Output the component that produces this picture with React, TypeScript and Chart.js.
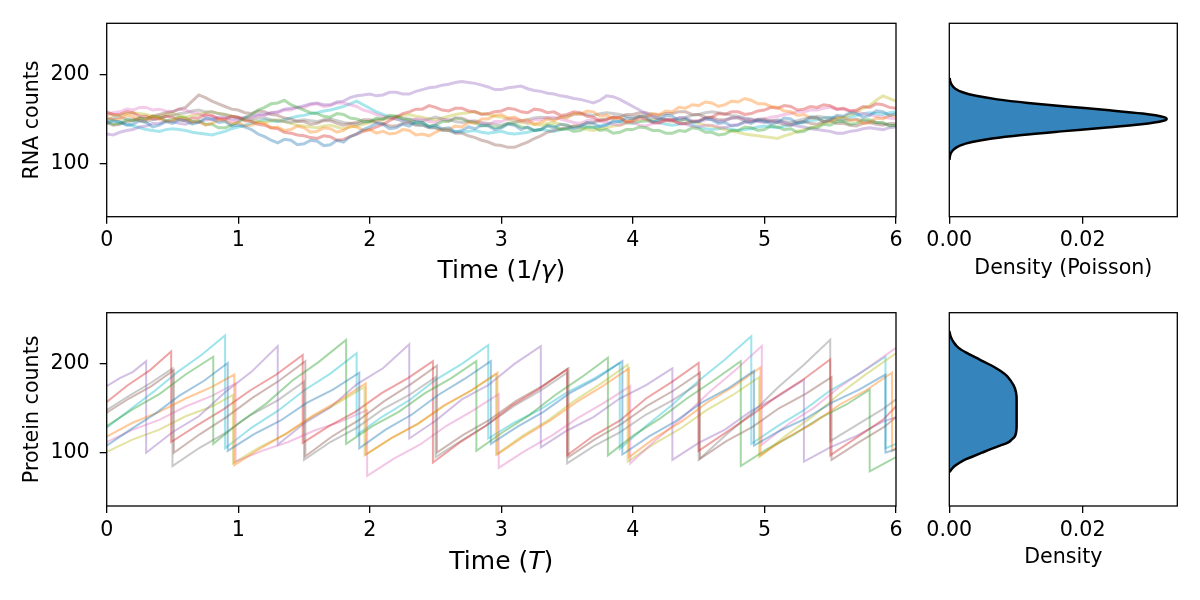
import { useEffect, useRef } from "react"
import { Chart, registerables, type ChartConfiguration, type Plugin } from "chart.js"

Chart.register(...registerables)

const FONT = "'DejaVu Sans', sans-serif"
const TAB10 = ["31,119,180", "255,127,14", "44,160,44", "214,39,40", "148,103,189", "140,86,75", "227,119,194", "127,127,127", "188,189,34", "23,190,207"]

const TIME_TICKS = [0, 1, 2, 3, 4, 5, 6]
const COUNT_TICKS = [100, 200]
const DENSITY_TICKS = [0, 0.02]
const COUNT_MIN = 40
const COUNT_MAX = 257.6
const DENSITY_MAX = 0.0342

// RNA traces, sampled every 0.05 (1/gamma)
const RNA_TIME = [
  0, 0.05, 0.1, 0.15, 0.2, 0.25, 0.3, 0.35, 0.4, 0.45, 0.5, 0.55, 0.6, 0.65, 0.7, 0.75, 0.8, 0.85, 0.9, 0.95,
  1, 1.05, 1.1, 1.15, 1.2, 1.25, 1.3, 1.35, 1.4, 1.45, 1.5, 1.55, 1.6, 1.65, 1.7, 1.75, 1.8, 1.85, 1.9, 1.95,
  2, 2.05, 2.1, 2.15, 2.2, 2.25, 2.3, 2.35, 2.4, 2.45, 2.5, 2.55, 2.6, 2.65, 2.7, 2.75, 2.8, 2.85, 2.9, 2.95,
  3, 3.05, 3.1, 3.15, 3.2, 3.25, 3.3, 3.35, 3.4, 3.45, 3.5, 3.55, 3.6, 3.65, 3.7, 3.75, 3.8, 3.85, 3.9, 3.95,
  4, 4.05, 4.1, 4.15, 4.2, 4.25, 4.3, 4.35, 4.4, 4.45, 4.5, 4.55, 4.6, 4.65, 4.7, 4.75, 4.8, 4.85, 4.9, 4.95,
  5, 5.05, 5.1, 5.15, 5.2, 5.25, 5.3, 5.35, 5.4, 5.45, 5.5, 5.55, 5.6, 5.65, 5.7, 5.75, 5.8, 5.85, 5.9, 5.95,
  6,
]
const RNA_BLUE = [
  145, 148, 147, 143, 144, 148, 146, 141, 143, 147, 145, 149, 148, 144, 146, 151, 150, 146, 147, 142,
  143, 141, 138, 133, 130, 126, 123, 127, 126, 121, 122, 126, 125, 120, 121, 126, 124, 130, 133, 138,
  141, 145, 144, 139, 140, 144, 142, 147, 146, 141, 143, 139, 140, 135, 137, 141, 139, 143, 142, 138,
  140, 144, 143, 138, 141, 137, 138, 142, 140, 144, 143, 139, 141, 146, 145, 141, 143, 148, 147, 151,
  150, 153, 152, 147, 149, 154, 153, 148, 150, 146, 147, 151, 149, 145, 146, 142, 143, 147, 145, 149,
  148, 144, 146, 151, 150, 145, 147, 152, 151, 147, 149, 154, 153, 157, 156, 152, 154, 159, 158, 154,
  156,
]
const RNA_ORANGE = [
  152, 149, 150, 154, 153, 148, 149, 153, 151, 147, 148, 151, 150, 146, 147, 143, 145, 149, 148, 144,
  146, 142, 143, 146, 145, 140, 141, 137, 138, 142, 140, 135, 136, 140, 139, 135, 137, 142, 141, 137,
  138, 134, 136, 133, 134, 138, 137, 132, 133, 131, 135, 139, 138, 142, 141, 146, 145, 150, 150, 154,
  155, 151, 152, 148, 149, 144, 146, 150, 148, 152, 151, 156, 155, 159, 158, 153, 154, 150, 151, 147,
  149, 153, 152, 156, 155, 159, 158, 163, 162, 166, 165, 169, 168, 164, 166, 170, 169, 173, 171, 167,
  167, 164, 163, 159, 158, 154, 155, 151, 151, 147, 148, 152, 152, 148, 149, 145, 146, 151, 150, 154,
  153,
]
const RNA_GREEN = [
  147, 144, 145, 149, 148, 151, 150, 153, 152, 148, 149, 152, 151, 147, 148, 144, 144, 140, 140, 143,
  146, 151, 155, 160, 163, 167, 168, 171, 166, 163, 160, 157, 156, 153, 152, 156, 155, 151, 150, 147,
  147, 151, 150, 154, 153, 150, 149, 146, 146, 142, 143, 147, 147, 151, 150, 147, 146, 142, 143, 140,
  141, 145, 144, 141, 140, 137, 138, 143, 142, 138, 139, 136, 137, 141, 141, 137, 138, 134, 135, 138,
  138, 141, 140, 137, 137, 134, 134, 137, 136, 140, 139, 135, 135, 132, 133, 137, 137, 141, 140, 137,
  138, 142, 141, 138, 139, 135, 136, 140, 140, 144, 143, 147, 147, 144, 145, 149, 149, 146, 146, 142,
  143,
]
const RNA_RED = [
  158, 155, 155, 158, 157, 153, 153, 150, 150, 153, 152, 149, 148, 151, 151, 155, 154, 150, 150, 153,
  152, 148, 147, 144, 143, 140, 139, 135, 134, 132, 131, 129, 128, 131, 130, 126, 127, 130, 133, 136,
  138, 141, 144, 148, 152, 156, 158, 161, 161, 165, 163, 160, 159, 162, 162, 159, 158, 155, 156, 158,
  159, 162, 161, 158, 157, 161, 160, 157, 158, 154, 155, 158, 157, 153, 152, 148, 149, 152, 151, 147,
  148, 151, 150, 146, 146, 149, 149, 145, 145, 147, 148, 151, 152, 156, 155, 158, 158, 155, 156, 159,
  160, 163, 162, 165, 164, 160, 161, 164, 163, 166, 165, 161, 162, 159, 160, 164, 163, 167, 166, 163,
  162,
]
const RNA_PURPLE = [
  133, 132, 135, 137, 138, 141, 142, 145, 145, 148, 147, 145, 144, 147, 146, 149, 149, 152, 152, 150,
  150, 152, 153, 155, 155, 157, 158, 161, 162, 163, 165, 167, 168, 166, 166, 169, 170, 174, 176, 177,
  178, 176, 177, 180, 180, 178, 178, 181, 183, 185, 186, 188, 189, 191, 192, 191, 190, 188, 186, 183,
  183, 185, 186, 187, 184, 182, 181, 179, 178, 176, 175, 173, 172, 170, 168, 171, 176, 175, 172, 168,
  164, 160, 156, 153, 150, 149, 148, 151, 151, 148, 147, 149, 150, 147, 148, 151, 152, 150, 149, 147,
  146, 148, 148, 146, 144, 142, 141, 139, 138, 137, 136, 134, 134, 136, 137, 139, 140, 139, 138, 140,
  141,
]
const RNA_BROWN = [
  146, 143, 144, 147, 148, 151, 150, 153, 155, 157, 158, 161, 163, 170, 177, 174, 170, 167, 164, 161,
  160, 157, 156, 159, 158, 155, 154, 151, 150, 147, 147, 144, 145, 148, 148, 145, 143, 145, 146, 149,
  149, 146, 145, 142, 142, 145, 146, 143, 143, 140, 140, 137, 137, 134, 134, 131, 129, 126, 124, 121,
  120, 118, 118, 121, 124, 128, 131, 135, 137, 139, 140, 142, 143, 145, 146, 149, 150, 152, 152, 155,
  155, 157, 157, 155, 154, 156, 156, 158, 158, 155, 155, 152, 152, 149, 149, 151, 151, 148, 147, 149,
  150, 147, 146, 144, 143, 146, 147, 145, 144, 147, 148, 145, 145, 143, 142, 145, 146, 144, 143, 145,
  145,
]
const RNA_PINK = [
  155, 157, 158, 161, 160, 163, 163, 160, 161, 159, 158, 161, 160, 157, 156, 153, 153, 150, 150, 147,
  148, 151, 151, 154, 154, 157, 157, 160, 160, 163, 163, 166, 167, 164, 165, 168, 168, 166, 164, 160,
  158, 155, 153, 151, 150, 148, 147, 150, 150, 147, 146, 149, 148, 151, 151, 148, 147, 145, 144, 147,
  147, 150, 150, 148, 146, 149, 149, 152, 152, 150, 148, 146, 145, 148, 149, 147, 146, 144, 143, 146,
  146, 143, 142, 145, 145, 148, 148, 145, 144, 142, 141, 143, 143, 141, 140, 143, 144, 146, 147, 150,
  150, 152, 153, 155, 156, 158, 158, 160, 160, 162, 163, 161, 161, 159, 158, 156, 155, 153, 152, 151,
  150,
]
const RNA_GRAY = [
  149, 151, 152, 150, 150, 148, 147, 149, 151, 153, 154, 156, 157, 159, 160, 158, 158, 156, 155, 153,
  152, 150, 149, 151, 151, 149, 148, 147, 146, 148, 149, 148, 147, 149, 150, 148, 146, 145, 144, 146,
  147, 149, 150, 152, 153, 151, 150, 149, 148, 150, 152, 150, 149, 147, 146, 147, 148, 146, 145, 144,
  143, 145, 146, 148, 149, 151, 152, 151, 150, 152, 153, 155, 156, 155, 154, 156, 157, 156, 155, 153,
  152, 153, 154, 152, 151, 150, 149, 151, 152, 154, 155, 157, 158, 157, 156, 154, 153, 151, 150, 148,
  147, 148, 149, 147, 146, 148, 150, 152, 153, 152, 151, 149, 148, 149, 150, 148, 147, 146, 145, 143,
  142,
]
const RNA_OLIVE = [
  156, 154, 154, 156, 157, 156, 155, 153, 153, 155, 156, 154, 152, 154, 155, 157, 158, 156, 155, 153,
  151, 149, 148, 147, 146, 148, 149, 147, 145, 143, 142, 141, 140, 142, 143, 141, 139, 141, 142, 144,
  146, 148, 149, 151, 152, 154, 155, 153, 152, 150, 149, 151, 153, 155, 156, 157, 158, 156, 155, 153,
  152, 150, 148, 146, 145, 144, 143, 145, 146, 144, 143, 141, 140, 138, 137, 139, 140, 142, 143, 145,
  146, 147, 148, 149, 150, 148, 147, 148, 149, 147, 145, 143, 142, 140, 138, 136, 135, 133, 132, 131,
  130, 129, 128, 131, 133, 136, 138, 140, 142, 145, 147, 150, 152, 155, 158, 162, 165, 171, 176, 173,
  170,
]
const RNA_CYAN = [
  150, 148, 146, 144, 142, 140, 138, 137, 136, 138, 139, 138, 137, 135, 134, 133, 132, 134, 136, 139,
  141, 143, 145, 147, 149, 148, 147, 149, 151, 153, 154, 156, 157, 159, 160, 162, 164, 167, 170, 166,
  162, 158, 155, 152, 150, 148, 146, 144, 143, 141, 140, 138, 137, 136, 135, 136, 137, 135, 134, 135,
  136, 134, 133, 134, 135, 137, 138, 137, 136, 138, 139, 141, 142, 141, 140, 142, 144, 146, 147, 146,
  145, 147, 148, 147, 146, 144, 143, 144, 145, 143, 141, 139, 138, 139, 140, 138, 137, 138, 139, 141,
  142, 141, 140, 142, 143, 145, 146, 148, 149, 151, 152, 151, 150, 152, 154, 156, 157, 156, 155, 157,
  158,
]
const RNA_TRACES = [RNA_BLUE, RNA_ORANGE, RNA_GREEN, RNA_RED, RNA_PURPLE, RNA_BROWN, RNA_PINK, RNA_GRAY, RNA_OLIVE, RNA_CYAN]

// protein traces as [time (T), count]; a repeated time is a division
const PROTEIN_BLUE = [[0, 108], [0.18, 126], [0.37, 144], [0.55, 164], [0.74, 181], [0.92, 201], [0.92, 102], [1.12, 121], [1.32, 136], [1.52, 156], [1.72, 171], [1.92, 190], [1.92, 105], [2.12, 126], [2.32, 143], [2.52, 165], [2.72, 183], [2.92, 203], [2.92, 110], [3.12, 129], [3.32, 146], [3.52, 167], [3.72, 183], [3.92, 203], [3.92, 98], [4.12, 118], [4.32, 135], [4.52, 156], [4.72, 172], [4.92, 192], [4.92, 108], [5.12, 125], [5.32, 139], [5.52, 157], [5.72, 171], [5.92, 188], [5.92, 100], [6, 104]]
const PROTEIN_ORANGE = [[0, 118], [0.2, 134], [0.4, 146], [0.6, 161], [0.8, 174], [0.97, 188], [0.97, 86], [1.17, 105], [1.37, 122], [1.57, 142], [1.77, 159], [1.97, 178], [1.97, 98], [2.17, 117], [2.37, 133], [2.57, 154], [2.77, 170], [2.97, 190], [2.97, 98], [3.17, 118], [3.37, 136], [3.57, 157], [3.77, 175], [3.97, 195], [3.97, 95], [4.17, 117], [4.37, 135], [4.57, 157], [4.77, 175], [4.97, 196], [4.97, 97], [5.17, 117], [5.37, 133], [5.57, 154], [5.77, 170], [5.97, 190], [5.97, 102], [6, 105]]
const PROTEIN_GREEN = [[0, 130], [0.2, 149], [0.4, 166], [0.6, 188], [0.81, 208], [0.81, 110], [1.01, 134], [1.21, 155], [1.41, 181], [1.61, 202], [1.82, 227], [1.82, 110], [2.02, 130], [2.22, 146], [2.42, 167], [2.62, 184], [2.81, 203], [2.81, 102], [3.01, 123], [3.21, 142], [3.41, 165], [3.61, 185], [3.81, 207], [3.81, 97], [4.01, 120], [4.21, 139], [4.41, 161], [4.61, 181], [4.82, 203], [4.82, 85], [5.02, 104], [5.22, 120], [5.42, 139], [5.62, 154], [5.8, 171], [5.8, 79], [6, 95]]
const PROTEIN_RED = [[0, 157], [0.16, 176], [0.33, 193], [0.49, 214], [0.49, 112], [0.69, 131], [0.89, 149], [1.09, 170], [1.29, 188], [1.49, 210], [1.49, 111], [1.69, 130], [1.89, 146], [2.09, 167], [2.29, 184], [2.48, 203], [2.48, 89], [2.68, 111], [2.88, 130], [3.08, 153], [3.28, 171], [3.5, 194], [3.5, 97], [3.7, 119], [3.9, 136], [4.1, 161], [4.3, 180], [4.5, 201], [4.5, 102], [4.7, 122], [4.9, 142], [5.1, 164], [5.3, 183], [5.5, 205], [5.5, 97], [5.7, 117], [5.9, 137], [6, 152]]
const PROTEIN_PURPLE = [[0, 175], [0.1, 184], [0.2, 191], [0.3, 203], [0.3, 100], [0.5, 123], [0.7, 141], [0.9, 168], [1.1, 191], [1.3, 220], [1.3, 109], [1.5, 133], [1.7, 151], [1.9, 177], [2.1, 195], [2.3, 222], [2.3, 116], [2.5, 136], [2.7, 160], [2.9, 176], [3.1, 200], [3.3, 220], [3.3, 106], [3.5, 125], [3.7, 140], [3.9, 161], [4.1, 176], [4.3, 195], [4.3, 92], [4.5, 111], [4.7, 126], [4.9, 147], [5.1, 163], [5.3, 182], [5.3, 90], [5.5, 106], [5.7, 119], [5.9, 135], [6, 140]]
const PROTEIN_BROWN = [[0, 145], [0.17, 161], [0.34, 175], [0.51, 193], [0.51, 100], [0.71, 121], [0.91, 140], [1.11, 162], [1.31, 181], [1.51, 203], [1.51, 96], [1.71, 118], [1.91, 136], [2.11, 158], [2.31, 177], [2.51, 198], [2.51, 100], [2.71, 120], [2.91, 137], [3.11, 158], [3.31, 175], [3.51, 195], [3.51, 95], [3.71, 115], [3.91, 132], [4.11, 153], [4.31, 170], [4.51, 190], [4.51, 93], [4.71, 113], [4.91, 129], [5.11, 150], [5.31, 166], [5.51, 185], [5.51, 92], [5.71, 111], [5.91, 129], [6, 140]]
const PROTEIN_PINK = [[0, 112], [0.2, 126], [0.4, 137], [0.6, 152], [0.8, 164], [0.98, 178], [0.98, 90], [1.18, 102], [1.38, 112], [1.58, 125], [1.78, 135], [1.98, 148], [1.98, 74], [2.18, 93], [2.38, 109], [2.58, 130], [2.78, 147], [2.98, 166], [2.98, 83], [3.18, 102], [3.38, 119], [3.58, 139], [3.78, 156], [3.98, 175], [3.98, 88], [4.18, 115], [4.38, 140], [4.58, 168], [4.78, 193], [4.98, 220], [4.98, 109], [5.18, 132], [5.38, 151], [5.58, 175], [5.78, 195], [6, 218]]
const PROTEIN_GRAY = [[0, 148], [0.17, 164], [0.34, 179], [0.5, 195], [0.5, 85], [0.7, 105], [0.9, 122], [1.1, 143], [1.3, 159], [1.5, 180], [1.5, 92], [1.7, 112], [1.9, 128], [2.1, 149], [2.3, 165], [2.5, 185], [2.5, 95], [2.7, 114], [2.9, 132], [3.1, 153], [3.3, 170], [3.5, 190], [3.5, 88], [3.7, 107], [3.9, 123], [4.1, 143], [4.3, 159], [4.5, 178], [4.5, 92], [4.7, 119], [4.9, 144], [5.1, 173], [5.3, 199], [5.5, 227], [5.5, 113], [5.7, 131], [5.9, 149], [6, 160]]
const PROTEIN_OLIVE = [[0, 101], [0.2, 115], [0.4, 126], [0.6, 141], [0.8, 152], [0.96, 165], [0.96, 88], [1.16, 106], [1.36, 121], [1.56, 140], [1.76, 156], [1.96, 174], [1.96, 97], [2.16, 116], [2.36, 132], [2.56, 152], [2.76, 169], [2.96, 188], [2.96, 98], [3.16, 119], [3.36, 137], [3.56, 159], [3.76, 178], [3.96, 199], [3.96, 90], [4.16, 110], [4.36, 127], [4.56, 148], [4.76, 165], [4.96, 185], [4.96, 95], [5.16, 119], [5.36, 140], [5.56, 165], [5.76, 187], [6, 212]]
const PROTEIN_CYAN = [[0, 128], [0.18, 149], [0.36, 169], [0.54, 191], [0.72, 210], [0.9, 232], [0.9, 105], [1.1, 128], [1.3, 147], [1.5, 170], [1.7, 189], [1.9, 212], [1.9, 120], [2.1, 141], [2.3, 159], [2.5, 182], [2.7, 200], [2.9, 221], [2.9, 116], [3.1, 134], [3.3, 149], [3.5, 168], [3.7, 183], [3.9, 201], [3.9, 104], [4.1, 130], [4.3, 154], [4.5, 181], [4.7, 205], [4.9, 231], [4.9, 110], [5.1, 130], [5.3, 148], [5.5, 170], [5.7, 187], [5.92, 208], [5.92, 105], [6, 110]]
const PROTEIN_TRACES = [PROTEIN_BLUE, PROTEIN_ORANGE, PROTEIN_GREEN, PROTEIN_RED, PROTEIN_PURPLE, PROTEIN_BROWN, PROTEIN_PINK, PROTEIN_GRAY, PROTEIN_OLIVE, PROTEIN_CYAN]

// stationary distributions
const POISSON_COUNTS = [104, 108, 112, 116, 120, 124, 128, 132, 136, 140, 144, 148, 150, 152, 156, 160, 164, 168, 172, 176, 180, 184, 188, 192, 196]
const POISSON_DENSITY = [0.00003, 0.00009, 0.00027, 0.0007, 0.0016, 0.0034, 0.0064, 0.0109, 0.0168, 0.0232, 0.0288, 0.0321, 0.0326, 0.0322, 0.029, 0.0236, 0.0175, 0.0118, 0.0072, 0.004, 0.002, 0.0009, 0.0004, 0.00015, 0.00005]
const PROTEIN_COUNTS = [78, 81, 85, 89, 93, 96, 100, 104, 108, 111, 115, 118, 122, 130, 140, 150, 160, 168, 175, 180, 186, 192, 199, 205, 212, 218, 225, 231, 237]
const PROTEIN_DENSITY = [0, 0.0003, 0.0008, 0.0016, 0.0026, 0.0036, 0.0049, 0.0062, 0.0076, 0.0087, 0.0094, 0.0098, 0.01, 0.0101, 0.0101, 0.0101, 0.0101, 0.01, 0.0097, 0.0093, 0.0087, 0.0077, 0.0061, 0.0045, 0.0027, 0.0014, 0.0006, 0.0002, 0]

const framePlugin: Plugin = {
  id: "frame",
  afterDatasetsDraw(chart) {
    const { ctx, chartArea: a } = chart
    ctx.save()
    ctx.strokeStyle = "#000"
    ctx.lineWidth = 1.3
    ctx.strokeRect(a.left, a.top, a.right - a.left, a.bottom - a.top)
    ctx.restore()
  },
}

const tickGrid = { drawOnChartArea: false, drawTicks: true, tickLength: 7, color: "#000", lineWidth: 1.3 }
const tickFont = { family: FONT, size: 20.6 }

function fixedTicks(values: number[]) {
  return (scale: any) => {
    scale.ticks = values.map((v) => ({ value: v }))
  }
}

function timeAxis(height: number) {
  return {
    type: "linear",
    min: 0,
    max: 6,
    afterBuildTicks: fixedTicks(TIME_TICKS),
    afterFit: (s: any) => { s.height = height },
    grid: tickGrid,
    border: { display: false },
    ticks: { color: "#000", font: tickFont, padding: 5, maxRotation: 0, autoSkip: false, callback: (v: any) => String(v) },
  }
}

function countAxis(label: string) {
  return {
    type: "linear",
    min: COUNT_MIN,
    max: COUNT_MAX,
    afterBuildTicks: fixedTicks(COUNT_TICKS),
    afterFit: (s: any) => { s.width = 106.7 },
    grid: tickGrid,
    border: { display: false },
    ticks: { color: "#000", font: tickFont, padding: 10 },
    title: { display: true, text: label, color: "#000", font: tickFont, padding: { top: 20, bottom: 0 } },
  }
}

function densityAxis(height: number, label: string, titlePad: number) {
  return {
    type: "linear",
    min: 0,
    max: DENSITY_MAX,
    afterBuildTicks: fixedTicks(DENSITY_TICKS),
    afterFit: (s: any) => { s.height = height },
    grid: tickGrid,
    border: { display: false },
    ticks: { color: "#000", font: tickFont, padding: 5, maxRotation: 0, autoSkip: false, callback: (v: any) => Number(v).toFixed(2) },
    title: { display: true, text: label, color: "#000", font: tickFont, padding: { top: 0, bottom: titlePad } },
  }
}

function traceConfig(datasets: any[], label: string, axisHeight: number, padTop: number): ChartConfiguration {
  return {
    type: "line",
    data: { datasets },
    options: {
      responsive: false,
      animation: false,
      events: [],
      layout: { padding: { left: 0, top: padTop, right: 14, bottom: 0 } },
      plugins: { legend: { display: false }, tooltip: { enabled: false } },
      scales: { x: timeAxis(axisHeight), y: countAxis(label) } as any,
    },
    plugins: [framePlugin],
  }
}

function densityConfig(counts: number[], density: number[], label: string, axisHeight: number, padTop: number, titlePad: number): ChartConfiguration {
  return {
    type: "line",
    data: {
      datasets: [
        {
          data: counts.map((c, i) => ({ x: density[i], y: c })),
          borderColor: "#000",
          borderWidth: 2.5,
          backgroundColor: "rgba(31,119,180,0.9)",
          fill: "origin",
          pointRadius: 0,
          cubicInterpolationMode: "monotone",
        },
      ],
    },
    options: {
      indexAxis: "y",
      responsive: false,
      animation: false,
      events: [],
      layout: { padding: { left: 39.3, top: padTop, right: 22.7, bottom: 0 } },
      plugins: { legend: { display: false }, tooltip: { enabled: false } },
      scales: {
        x: densityAxis(axisHeight, label, titlePad),
        y: { type: "linear", display: false, min: COUNT_MIN, max: COUNT_MAX },
      } as any,
    },
    plugins: [framePlugin],
  }
}

const rnaDatasets = RNA_TRACES.map((values, k) => ({
  data: values.map((v, i) => ({ x: RNA_TIME[i], y: v })),
  borderColor: `rgba(${TAB10[k]},0.38)`,
  borderWidth: 3,
  pointRadius: 0,
  fill: false,
}))

const proteinDatasets = PROTEIN_TRACES.map((points, k) => ({
  data: points.map(([t, v]) => ({ x: t, y: v })),
  borderColor: `rgba(${TAB10[k]},0.42)`,
  borderWidth: 2,
  pointRadius: 0,
  fill: false,
}))

const RNA_CONFIG = traceConfig(rnaDatasets, "RNA counts", 68.3, 23.3)
const PROTEIN_CONFIG = traceConfig(proteinDatasets, "Protein counts", 94, 22.7)
const POISSON_CONFIG = densityConfig(POISSON_COUNTS, POISSON_DENSITY, "Density (Poisson)", 68.3, 23.3, 4)
const PROTEIN_DENSITY_CONFIG = densityConfig(PROTEIN_COUNTS, PROTEIN_DENSITY, "Density", 94, 22.7, 30)

function Panel({ config, left, top, width, height }: { config: ChartConfiguration; left: number; top: number; width: number; height: number }) {
  const ref = useRef<HTMLCanvasElement>(null)

  useEffect(() => {
    if (!ref.current) return
    const chart = new Chart(ref.current, config)
    return () => chart.destroy()
  }, [config])

  return <canvas ref={ref} width={width} height={height} style={{ position: "absolute", left, top, width, height }} />
}

const labelStyle = {
  position: "absolute" as const,
  left: 106.7,
  width: 789.3,
  textAlign: "center" as const,
  fontFamily: FONT,
  fontSize: 25,
  lineHeight: "25px",
  color: "#000",
  whiteSpace: "nowrap" as const,
}

export default function App() {
  return (
    <div style={{ position: "absolute", left: 0, top: 0, width: 1200, height: 600, background: "#fff", overflow: "hidden" }}>
      <Panel config={RNA_CONFIG} left={0} top={0} width={910} height={285} />
      <Panel config={POISSON_CONFIG} left={910} top={0} width={290} height={285} />
      <Panel config={PROTEIN_CONFIG} left={0} top={290} width={910} height={310} />
      <Panel config={PROTEIN_DENSITY_CONFIG} left={910} top={290} width={290} height={310} />
      <div style={{ ...labelStyle, top: 257 }}>Time (1/<i>γ</i>)</div>
      <div style={{ ...labelStyle, top: 548 }}>Time (<i>T</i>)</div>
    </div>
  )
}
